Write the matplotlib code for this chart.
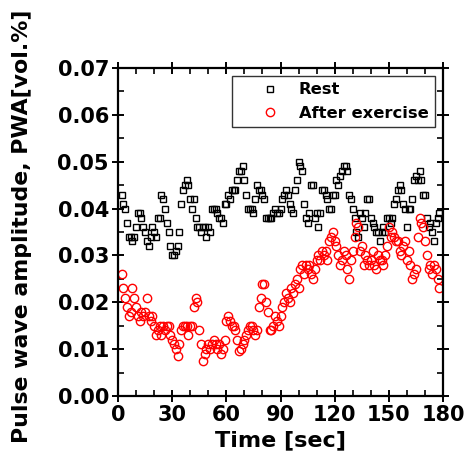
import numpy as np
import matplotlib
matplotlib.use("Agg")
import matplotlib.pyplot as plt
from matplotlib.ticker import MultipleLocator, FormatStrFormatter

plt.rcParams['font.family'] = ['DejaVu Sans']
plt.rcParams['font.weight'] = 'bold'

#%% Daten (1 s Schritte von 2 bis 178 s)
t_sec = np.arange(2, 179)

pwa_rest = [
    0.043, 0.041, 0.040, 0.037, 0.034, 0.034, 0.033, 0.034, 0.036, 0.039,
    0.039, 0.038, 0.036, 0.035, 0.033, 0.032, 0.034, 0.036, 0.035, 0.034,
    0.038, 0.038, 0.043, 0.042, 0.040, 0.037, 0.035, 0.032, 0.030, 0.030,
    0.031, 0.032, 0.035, 0.041, 0.044, 0.045, 0.046, 0.045, 0.042, 0.040,
    0.042, 0.038, 0.036, 0.036, 0.035, 0.036, 0.036, 0.034, 0.036, 0.035,
    0.040, 0.040, 0.040, 0.039, 0.038, 0.038, 0.037, 0.041, 0.041, 0.043,
    0.042, 0.044, 0.044, 0.044, 0.046, 0.048, 0.048, 0.049, 0.046, 0.043,
    0.040, 0.040, 0.040, 0.039, 0.042, 0.045, 0.044, 0.044, 0.043, 0.042,
    0.038, 0.038, 0.038, 0.038, 0.039, 0.040, 0.039, 0.039, 0.040, 0.042,
    0.043, 0.044, 0.043, 0.041, 0.040, 0.039, 0.044, 0.046, 0.050, 0.049,
    0.048, 0.041, 0.038, 0.037, 0.039, 0.045, 0.045, 0.038, 0.039, 0.036,
    0.039, 0.044, 0.044, 0.043, 0.042, 0.040, 0.040, 0.043, 0.043, 0.046,
    0.045, 0.047, 0.048, 0.049, 0.049, 0.048, 0.043, 0.042, 0.040, 0.038,
    0.035, 0.034, 0.039, 0.038, 0.036, 0.039, 0.042, 0.042, 0.038, 0.037,
    0.036, 0.035, 0.035, 0.033, 0.035, 0.036, 0.035, 0.038, 0.038, 0.037,
    0.038, 0.041, 0.042, 0.044, 0.045, 0.044, 0.041, 0.040, 0.036, 0.040,
    0.040, 0.042, 0.046, 0.047, 0.046, 0.048, 0.046, 0.043, 0.043, 0.038,
    0.036, 0.037, 0.035, 0.033, 0.037, 0.038, 0.039,
]

pwa_exercise = [
    0.026, 0.023, 0.021, 0.019, 0.017, 0.018, 0.023, 0.021, 0.019, 0.017,
    0.016, 0.018, 0.017, 0.018, 0.021, 0.017, 0.016, 0.017, 0.015, 0.013,
    0.014, 0.015, 0.013, 0.015, 0.014, 0.015, 0.015, 0.013, 0.012, 0.011,
    0.010, 0.0085, 0.011, 0.014, 0.015, 0.015, 0.015, 0.013, 0.015, 0.015,
    0.019, 0.021, 0.020, 0.014, 0.011, 0.0075, 0.009, 0.010, 0.011, 0.010,
    0.011, 0.012, 0.011, 0.010, 0.011, 0.009, 0.010, 0.012, 0.016, 0.017,
    0.016, 0.015, 0.015, 0.014, 0.012, 0.0095, 0.010, 0.011, 0.012, 0.013,
    0.014, 0.015, 0.015, 0.014, 0.013, 0.014, 0.019, 0.021, 0.024, 0.024,
    0.020, 0.018, 0.014, 0.014, 0.015, 0.017, 0.016, 0.015, 0.017, 0.019,
    0.020, 0.022, 0.021, 0.020, 0.023, 0.022, 0.024, 0.025, 0.023, 0.027,
    0.028, 0.026, 0.028, 0.027, 0.028, 0.026, 0.025, 0.027, 0.029, 0.030,
    0.029, 0.031, 0.030, 0.031, 0.029, 0.033, 0.034, 0.035, 0.033, 0.032,
    0.030, 0.028, 0.029, 0.031, 0.030, 0.027, 0.025, 0.029, 0.031, 0.034,
    0.037, 0.036, 0.031, 0.032, 0.028, 0.030, 0.029, 0.028, 0.029, 0.031,
    0.028, 0.027, 0.030, 0.029, 0.029, 0.028, 0.030, 0.032, 0.036, 0.034,
    0.035, 0.034, 0.033, 0.033, 0.031, 0.030, 0.032, 0.033, 0.029, 0.031,
    0.028, 0.025, 0.026, 0.027, 0.034, 0.038, 0.037, 0.036, 0.033, 0.030,
    0.027, 0.028, 0.026, 0.028, 0.027, 0.025, 0.023,
]

#%% Plot
fig = plt.figure(figsize=(4.67, 4.74), dpi=100)
ax = fig.add_axes([0.2527, 0.1646, 0.6959, 0.6919])

ax.plot(t_sec, pwa_rest, 's', ms=5.0, mfc='none', mec='black', mew=1.0, label='Rest')
ax.plot(t_sec, pwa_exercise, 'o', ms=6.0, mfc='none', mec='red', mew=1.0, label='After exercise')

ax.set_xlim(0, 180)
ax.set_ylim(0, 0.07)
ax.xaxis.set_major_locator(MultipleLocator(30))
ax.xaxis.set_minor_locator(MultipleLocator(10))
ax.yaxis.set_major_locator(MultipleLocator(0.01))
ax.yaxis.set_minor_locator(MultipleLocator(0.005))
ax.yaxis.set_major_formatter(FormatStrFormatter('%.2f'))

for s in ax.spines.values():
    s.set_linewidth(1.6)
ax.tick_params(which='major', direction='inout', length=9, width=1.4,
               top=True, right=True, labelsize=15, pad=2)
ax.tick_params(which='minor', direction='in', length=4, width=1.2,
               top=True, right=True)

ax.set_xlabel('Time [sec]', fontsize=16, fontweight='bold', labelpad=4)
ax.set_ylabel('Pulse wave amplitude, PWA[vol.%]', fontsize=15.8, fontweight='bold')
ax.yaxis.set_label_coords(-0.265, 0.517)

leg = ax.legend(loc='upper right', numpoints=1, fontsize=11.8, frameon=True, fancybox=False,
                edgecolor='black', borderpad=0.4, handlelength=3.8, handletextpad=-0.15,
                labelspacing=0.5, borderaxespad=0, bbox_to_anchor=(0.975, 0.976))
leg.get_frame().set_linewidth(1.0)
for txt in leg.get_texts():
    txt.set_fontweight('bold')

fig.savefig('out.png', dpi=100)
